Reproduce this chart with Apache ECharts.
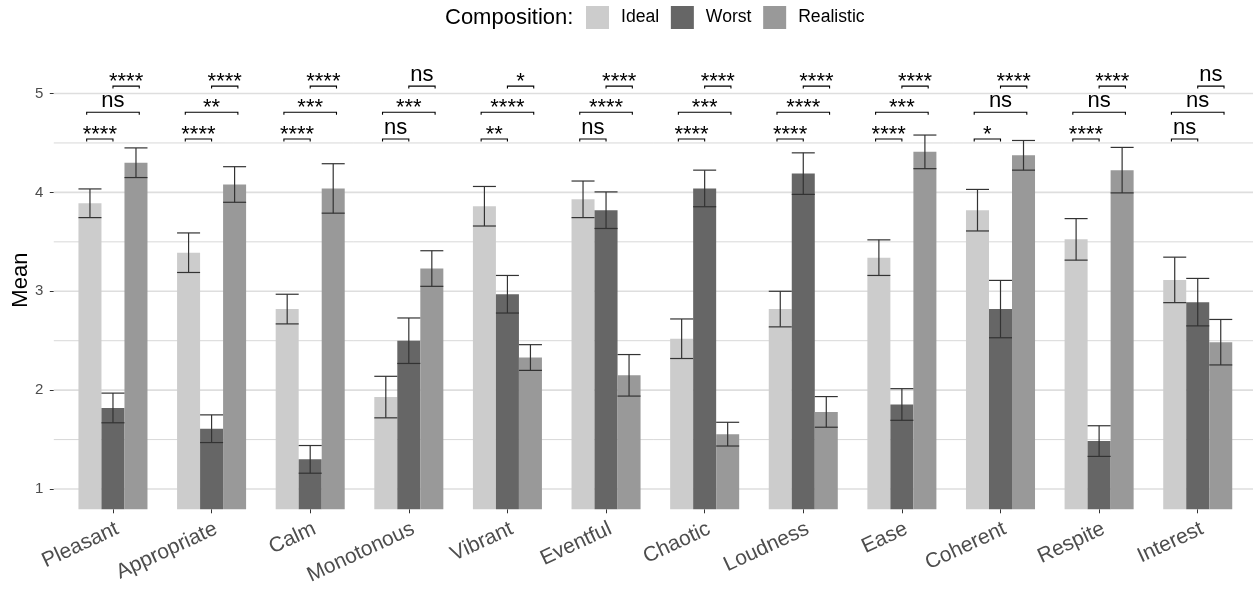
<!DOCTYPE html>
<html><head><meta charset="utf-8">
<script src="https://cdn.jsdelivr.net/npm/echarts@6/dist/echarts.min.js"></script>
<style>html,body{margin:0;padding:0;background:#fff}#c{width:1253px;height:590px}</style>
</head><body><div id="c"></div>
<script>
// ---------- data ----------
const categories = ['Pleasant','Appropriate','Calm','Monotonous','Vibrant','Eventful','Chaotic','Loudness','Ease','Coherent','Respite','Interest'];
const seriesNames = ['Ideal','Worst','Realistic'];
const idealMean     = [3.89, 3.39, 2.82, 1.93, 3.86, 3.93, 2.52, 2.82, 3.34, 3.82, 3.525, 3.115];
const worstMean     = [1.82, 1.61, 1.30, 2.50, 2.97, 3.82, 4.04, 4.19, 1.855, 2.82, 1.485, 2.89];
const realisticMean = [4.30, 4.08, 4.04, 3.23, 2.33, 2.15, 1.555, 1.78, 4.41, 4.375, 4.225, 2.485];
const idealErr      = [0.145, 0.20, 0.15, 0.21, 0.20, 0.185, 0.20, 0.18, 0.18, 0.21, 0.21, 0.23];
const worstErr      = [0.15, 0.14, 0.14, 0.23, 0.19, 0.185, 0.185, 0.21, 0.16, 0.29, 0.155, 0.24];
const realisticErr  = [0.15, 0.18, 0.25, 0.18, 0.13, 0.21, 0.12, 0.155, 0.17, 0.15, 0.23, 0.23];
// significance labels: Ideal vs Worst, Ideal vs Realistic, Worst vs Realistic
const sigIdealWorst     = ['****','****','****','ns','**','ns','****','****','****','*','****','ns'];
const sigIdealRealistic = ['ns','**','***','***','****','****','***','****','***','ns','ns','ns'];
const sigWorstRealistic = ['****','****','****','ns','*','****','****','****','****','****','****','ns'];
const bracketLevels = [4.54, 4.81, 5.075];
const yTicks = [1, 2, 3, 4, 5];
const yMinorGrid = [1.5, 2.5, 3.5, 4.5];

// ---------- styles / layout ----------
const FONT = '"Liberation Sans", Arial, Helvetica, sans-serif';
const COLORS = ['#cccccc', '#666666', '#999999'];
const X_MIN = 0.4, X_MAX = 12.6, Y_MIN = 0.795, Y_MAX = 5.43;
const BAR_W = 0.7 / 3;
const DODGE = [-BAR_W, 0, BAR_W];
const SIG_DODGE = [-0.8 / 3, 0, 0.8 / 3];
const means = [idealMean, worstMean, realisticMean];
const errs = [idealErr, worstErr, realisticErr];
const xPos = categories.map((c, i) => i + 1);

const chart = echarts.init(document.getElementById('c'), null, {renderer: 'canvas'});

function barSeries(k) {
  return {
    name: seriesNames[k], type: 'custom', z: 3,
    itemStyle: {color: COLORS[k]},
    data: xPos.map((x, i) => [x, means[k][i]]),
    encode: {x: 0, y: 1},
    renderItem: function (params, api) {
      const x = api.value(0), v = api.value(1);
      const p1 = api.coord([x + DODGE[k] - BAR_W / 2, v]);
      const p2 = api.coord([x + DODGE[k] + BAR_W / 2, Y_MIN]);
      return {type: 'rect', shape: {x: p1[0], y: p1[1], width: p2[0] - p1[0], height: p2[1] - p1[1]},
              style: {fill: COLORS[k]}};
    }
  };
}

const errData = [];
for (let k = 0; k < 3; k++) xPos.forEach((x, i) => errData.push([x, k, means[k][i], errs[k][i]]));

const bracketItems = [];
xPos.forEach((x, i) => {
  bracketItems.push({x: x, a: 0, b: 1, lvl: 0, label: sigIdealWorst[i]});
  bracketItems.push({x: x, a: 0, b: 2, lvl: 1, label: sigIdealRealistic[i]});
  bracketItems.push({x: x, a: 1, b: 2, lvl: 2, label: sigWorstRealistic[i]});
});

const gridData = yTicks.map(v => [v, 1]).concat(yMinorGrid.map(v => [v, 0]));

const option = {
  animation: false,
  backgroundColor: '#ffffff',
  textStyle: {fontFamily: FONT},
  grid: {left: 53.8, top: 51, width: 1203.1, bottom: 80.7, containLabel: false, outerBoundsMode: 'none'},
  xAxis: {
    type: 'value', min: X_MIN, max: X_MAX,
    axisLine: {show: false}, splitLine: {show: false},
    axisTick: {show: true, customValues: xPos, length: 4, lineStyle: {color: '#333333', width: 1}},
    axisLabel: {customValues: xPos, formatter: v => categories[Math.round(v) - 1],
                rotate: 25, align: 'right', verticalAlign: 'top',
                fontSize: 21, color: '#4d4d4d', margin: 9, fontFamily: FONT}
  },
  yAxis: {
    type: 'value', min: Y_MIN, max: Y_MAX,
    name: 'Mean', nameLocation: 'middle', nameGap: 22, nameMoveOverlap: false,
    nameTextStyle: {fontSize: 22, color: '#000000', fontFamily: FONT},
    axisLine: {show: false}, splitLine: {show: false},
    axisTick: {show: true, customValues: yTicks, length: 4, lineStyle: {color: '#333333', width: 1}},
    axisLabel: {customValues: yTicks, fontSize: 15, color: '#4d4d4d', margin: 10.5, fontFamily: FONT}
  },
  legend: {
    data: seriesNames, left: 586, top: 6, padding: 0, itemWidth: 23, itemHeight: 23, itemGap: 11.7,
    icon: 'rect', selectedMode: false,
    textStyle: {fontSize: 17.6, color: '#000000', fontFamily: FONT, padding: [0, 0, 0, 7]}
  },
  graphic: [{
    type: 'text', left: 445, top: 6,
    style: {text: 'Composition:', fontSize: 22, fontFamily: FONT, fill: '#000000', lineHeight: 23, verticalAlign: 'middle'}
  }],
  series: [
    {
      type: 'custom', z: 1, silent: true,
      data: gridData,
      renderItem: function (params, api) {
        const v = api.value(0), major = api.value(1) === 1;
        const p1 = api.coord([X_MIN, v]), p2 = api.coord([X_MAX, v]);
        return {type: 'line', shape: {x1: p1[0], y1: p1[1], x2: p2[0], y2: p2[1]},
                style: {stroke: major ? '#dedede' : '#d4d4d4', lineWidth: major ? 1.6 : 0.9}};
      }
    },
    barSeries(0), barSeries(1), barSeries(2),
    {
      type: 'custom', z: 4, silent: true,
      data: errData,
      renderItem: function (params, api) {
        const x = api.value(0) + DODGE[api.value(1)];
        const m = api.value(2), e = api.value(3);
        const top = api.coord([x, m + e]), bot = api.coord([x, m - e]);
        const l = api.coord([x - BAR_W / 2, m])[0], r = api.coord([x + BAR_W / 2, m])[0];
        const st = {stroke: '#333333', lineWidth: 1.2};
        return {type: 'group', children: [
          {type: 'line', shape: {x1: top[0], y1: top[1], x2: bot[0], y2: bot[1]}, style: st},
          {type: 'line', shape: {x1: l, y1: top[1], x2: r, y2: top[1]}, style: st},
          {type: 'line', shape: {x1: l, y1: bot[1], x2: r, y2: bot[1]}, style: st}
        ]};
      }
    },
    {
      type: 'custom', z: 5, silent: true,
      data: bracketItems.map(b => [b.x, bracketLevels[b.lvl]]),
      renderItem: function (params, api) {
        const b = bracketItems[params.dataIndex];
        const yb = api.value(1);
        const p1 = api.coord([b.x + SIG_DODGE[b.a], yb]);
        const p2 = api.coord([b.x + SIG_DODGE[b.b], yb]);
        const tip = 2.5;
        const isNs = b.label === 'ns';
        const ty = isNs ? p1[1] - 11.3 : p1[1] - 4.4;
        return {type: 'group', children: [
          {type: 'polyline', shape: {points: [[p1[0], p1[1] + tip], [p1[0], p1[1]], [p2[0], p2[1]], [p2[0], p2[1] + tip]]},
           style: {stroke: '#000000', lineWidth: 1.1, fill: null}},
          {type: 'text', x: (p1[0] + p2[0]) / 2, y: ty,
           style: {text: b.label, fontSize: 22, fontFamily: FONT, fill: '#000000', align: 'center', verticalAlign: 'middle'}}
        ]};
      }
    }
  ]
};
chart.setOption(option);
</script>
</body></html>
